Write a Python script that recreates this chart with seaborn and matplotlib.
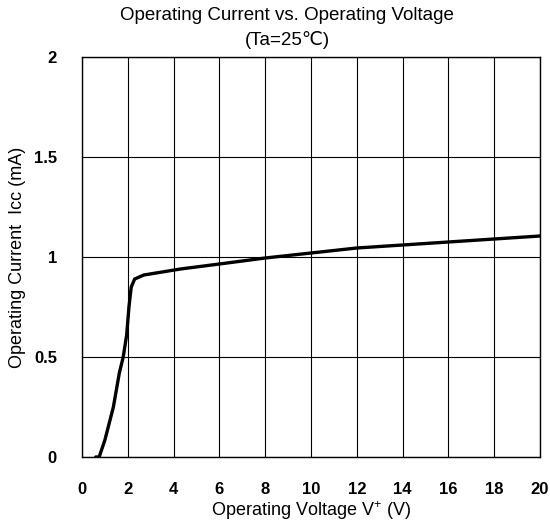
import matplotlib
matplotlib.use("Agg")
import matplotlib.pyplot as plt
import seaborn as sns
import pandas as pd

voltage = [0.6, 0.75, 1.0, 1.37, 1.63, 1.8, 1.95, 2.05, 2.15, 2.3, 2.7, 4.3, 6, 8, 10, 12, 14, 16, 18, 20]
current = [0.0, 0.0, 0.085, 0.25, 0.42, 0.5, 0.61, 0.75, 0.85, 0.89, 0.91, 0.94, 0.965, 0.995, 1.02, 1.045, 1.06, 1.075, 1.09, 1.105]
xticks = [0, 2, 4, 6, 8, 10, 12, 14, 16, 18, 20]
yticks = [0, 0.5, 1, 1.5, 2]
ytick_labels = ["0", "0.5", "1", "1.5", "2"]

sns.set_style("white")
plt.rcParams['font.family'] = ['Liberation Sans', 'DejaVu Sans']
plt.rcParams['mathtext.fontset'] = 'custom'
plt.rcParams['mathtext.rm'] = 'Liberation Sans'
plt.rcParams['text.color'] = 'black'
plt.rcParams['axes.labelcolor'] = 'black'
plt.rcParams['xtick.color'] = 'black'
plt.rcParams['ytick.color'] = 'black'

df = pd.DataFrame({"V": voltage, "I": current})

fig = plt.figure(figsize=(5.5, 5.23), dpi=100)
ax = fig.add_axes([82/550, 1 - 457/523, (540-82)/550, (457-57)/523])
sns.lineplot(data=df, x="V", y="I", ax=ax, color="black", linewidth=2.4)

ax.set_xlim(0, 20)
ax.set_ylim(0, 2)
ax.set_xticks(xticks)
ax.set_xticklabels([str(t) for t in xticks], fontsize=12, fontweight='bold')
ax.set_yticks(yticks)
ax.set_yticklabels(ytick_labels, fontsize=12, fontweight='bold')
ax.tick_params(axis='x', length=0, pad=18)
ax.tick_params(axis='y', length=0, pad=18)
ax.grid(True, color='black', linewidth=0.8)
for s in ax.spines.values():
    s.set_visible(True)
    s.set_color('black')
    s.set_linewidth(1.0)

ax.set_xlabel("Operating Voltage V$^{+}$ (V)", fontsize=13, labelpad=2)
ax.set_ylabel("Operating Current  Icc (mA)", fontsize=13, labelpad=6)

fig.text(287/550, 1 - 16/523, "Operating Current vs. Operating Voltage", ha='center', va='center', fontsize=13.5)
fig.text(287/550, 1 - 40/523, "(Ta=25℃)", ha='center', va='center', fontsize=13.5)

fig.savefig("out.png", dpi=100)
